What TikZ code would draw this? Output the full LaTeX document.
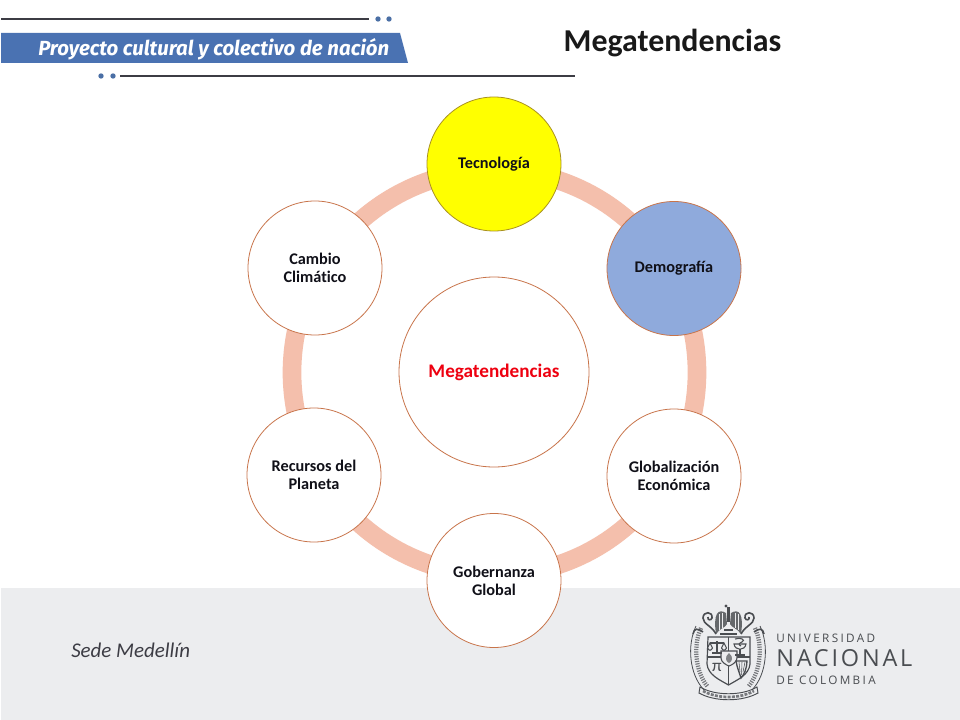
\documentclass[tikz,border=0pt]{standalone}
\usepackage{fontspec}
\setmainfont{Carlito}
\newfontfamily\bannerfont{Fira Sans}
\newfontfamily\logofont{Open Sans}
\definecolor{ringc}{HTML}{F4BFAC}
\definecolor{edgec}{HTML}{C8744A}
\definecolor{bluefill}{HTML}{8FAADC}
\definecolor{bannerc}{HTML}{4A72B2}
\definecolor{footc}{HTML}{ECEDEF}
\definecolor{darkl}{HTML}{3C3C44}
\definecolor{dotc}{HTML}{4A6FA5}
\definecolor{logoc}{HTML}{4A4D51}
\definecolor{pureyellow}{HTML}{FFFF00}
\definecolor{yedge}{HTML}{A89020}
\definecolor{purered}{HTML}{EE0010}
\definecolor{labelc}{HTML}{101018}
\tikzset{
  x=0.75pt,y=-0.75pt,
  topic/.style={circle,draw=edgec,line width=0.6pt,fill=white,minimum size=100.5pt,inner sep=0pt,align=center,font=\fontsize{12.2}{13.6}\selectfont\bfseries,text=labelc},
  rule/.style={draw=darkl,line width=1.1pt},
  dotm/.style={circle,fill=dotc,minimum size=4pt,inner sep=0pt},
  logoln/.style={draw=logoc,line width=0.6pt,fill=none},
  hatch/.style={draw=logoc!75,line width=3.2pt,dash pattern=on 0.9pt off 0.9pt},
}
\begin{document}
\begin{tikzpicture}
\useasboundingbox (0,0) rectangle (960,720);
\fill[white] (0,0) rectangle (960,720);
\fill[footc] (1,588) rectangle (960,720);
% header
\coordinate (r1a) at (1,19); \coordinate (r1b) at (369,19);
\draw[rule] (r1a) -- (r1b);
\node[dotm] (d1) at (378,19) {};
\node[dotm] (d2) at (389,19) {};
\fill[bannerc] (1,33) -- (400,33) -- (408,63) -- (1,63) -- cycle;
\node[anchor=base west,text=white,inner sep=0pt,font=\bannerfont\itshape\fontsize{15.3}{18}\selectfont\bfseries] (banner) at (38,56) {Proyecto cultural y colectivo de nación};
\node[dotm] (d3) at (101,76) {};
\node[dotm] (d4) at (113,76) {};
\coordinate (r2a) at (120,76); \coordinate (r2b) at (575,76);
\draw[rule] (r2a) -- (r2b);
\node[anchor=base,inner sep=0pt,text=black!90,font=\fontsize{23.9}{26}\selectfont\bfseries] (title) at (672.5,52) {Megatendencias};
% ring
\draw[ringc,line width=14pt] (494.5,372.5) circle[radius=202.5];
% nodes
\node[topic,fill=pureyellow,draw=yedge] (tec) at (494,164) {Tecnología};
\node[topic,fill=bluefill] (dem) at (674,268.5) {Demografía};
\node[topic] (glo) at (674,476) {Globalización\\Económica};
\node[topic] (gob) at (494,580.5) {Gobernanza\\Global};
\node[topic] (rec) at (314,475) {Recursos del\\Planeta};
\node[topic] (cam) at (315,268) {Cambio\\Climát\kern0pt ico};
\node[circle,draw=edgec,line width=0.6pt,fill=white,minimum size=142.5pt,inner sep=0pt,text=purered,font=\fontsize{14.4}{16}\selectfont\bfseries] (mega) at (494,372) {Megatendencias};
% footer
\node[anchor=base west,inner sep=0pt,text=darkl,font=\itshape\fontsize{15.7}{18}\selectfont] (sede) at (71,657) {Sede Medellín};
% logo shield
\begin{scope}[logoln]
 % outer ornament hatching
 \draw[hatch] (701,628) .. controls (693,645) and (695,672) .. (708,687);
 \draw[hatch] (755,628) .. controls (763,645) and (761,672) .. (748,687);
 \draw (696,626) .. controls (687,645) and (689,674) .. (704,690);
 \draw (760,626) .. controls (769,645) and (767,674) .. (752,690);
 % shield
 \draw[line width=0.9pt] (708,637) -- (750,637) -- (750,664) .. controls (749,675) and (737,680) .. (728.5,685) .. controls (720,680) and (708,675) .. (707,664) -- cycle;
 \draw[line width=0.9pt] (728.5,637) -- (728.5,685);
 \draw[line width=0.9pt] (707.5,657) -- (750,657);
 % centre shield
 \draw[fill=footc,line width=0.8pt] (721,651) -- (737,651) -- (737,658) .. controls (737,662) and (732,665) .. (729,666) .. controls (726,665) and (721,662) .. (721,658) -- cycle;
 \fill[logoc!70] (729,653) .. controls (734,657) and (732,662) .. (729,663) .. controls (726,662) and (724,657) .. (729,653) -- cycle;
 % scale
 \draw[line width=0.8pt] (717,641) -- (717,652) (710,643) -- (724,643) (712,653) -- (722,653);
 \draw[line width=0.8pt] (707.5,648) -- (710,643) -- (712.5,648) .. controls (711,651) and (709,651) .. (707.5,648);
 \draw[line width=0.8pt] (721.5,648) -- (724,643) -- (726.5,648) .. controls (725,651) and (723,651) .. (721.5,648);
 % cup and serpent
 \draw[line width=0.8pt] (734,644) .. controls (735,651) and (745,651) .. (746,644) -- cycle;
 \draw[line width=0.8pt] (740,649) -- (740,654) (735,655) -- (745,655);
 \draw[line width=0.8pt] (735,639) .. controls (741,637) and (746,640) .. (742,642) .. controls (739,643) and (738,645) .. (741,646);
 % harp
 \draw[line width=1pt] (736,661) -- (747,661) .. controls (747,668) and (744,675) .. (741,678) .. controls (739,672) and (737,667) .. (736,661) -- cycle;
 \draw[line width=0.4pt] (739,662) -- (740,672) (742,662) -- (741.5,675) (745,662) -- (743,672);
 % eagle
 \fill[logoc] (726,606) circle[radius=1.6];
 \fill[logoc] (727,607) -- (730,607) -- (730,622) -- (727,622) -- cycle;
 \fill[logoc!85] (726,613) .. controls (718,608) and (713,614) .. (716,634) .. controls (720,628) and (725,628) .. (727,624) -- cycle;
 \fill[logoc!85] (731,613) .. controls (739,608) and (744,614) .. (741,634) .. controls (737,628) and (732,628) .. (730,624) -- cycle;
 \draw[draw=footc,line width=0.5pt] (719,614) -- (719,630) (722,613) -- (722,628) (738,614) -- (738,630) (735,613) -- (735,628);
 \draw[line width=0.9pt] (720,634) -- (737,634) (724,630) -- (733,630);
 % top curls
 \draw[line width=1.2pt] (716,634) .. controls (712,626) and (703,624) .. (703,618) .. controls (703,611) and (713,611) .. (712,618) .. controls (711,621) and (707,620) .. (708,617);
 \draw[line width=1.2pt] (741,634) .. controls (745,626) and (754,624) .. (754,618) .. controls (754,611) and (744,611) .. (745,618) .. controls (746,621) and (750,620) .. (749,617);
 \draw[line width=1.2pt] (703,632) .. controls (698,628) and (694,628) .. (693,634);
 \draw[line width=1.2pt] (754,632) .. controls (759,628) and (763,628) .. (764,634);
 % motto ribbon
 \draw[line width=0.7pt] (700,687) .. controls (715,696) and (742,696) .. (757,687) -- (758,693) .. controls (742,702) and (715,702) .. (699,693) -- cycle;
 \draw[draw=logoc!75,line width=2pt,dash pattern=on 2.2pt off 1pt] (703,691) .. controls (718,699) and (739,699) .. (754,691);
\end{scope}
\node[inner sep=0pt,text=logoc,font=\fontsize{13}{13}\selectfont] (pi) at (717,667) {π};
\node[anchor=base west,inner sep=0pt,text=logoc,font=\logofont\addfontfeature{LetterSpace=20}\fontsize{8.8}{11}\selectfont] (u1) at (776,642) {UNIVERSIDAD};
\node[anchor=base west,inner sep=0pt,text=logoc,font=\logofont\addfontfeature{LetterSpace=12}\fontsize{17.6}{20}\selectfont] (u2) at (776,666.5) {NACIONAL};
\node[anchor=base west,inner sep=0pt,text=logoc,font=\logofont\addfontfeature{LetterSpace=20}\fontsize{8.8}{11}\selectfont] (u3) at (776,684.5) {DE COLOMBIA};
\end{tikzpicture}
\end{document}
